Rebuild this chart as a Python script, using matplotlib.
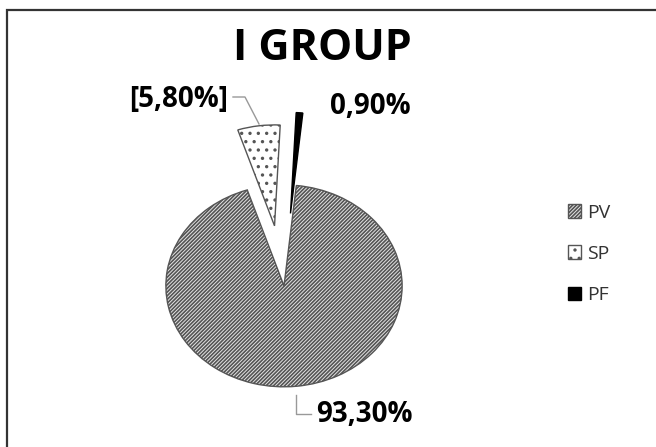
import matplotlib.pyplot as plt
from matplotlib.patches import Rectangle

plt.rcParams['font.family'] = ['Open Sans', 'DejaVu Sans']
plt.rcParams['hatch.linewidth'] = 1.2

# data
labels = ['PV', 'SP', 'PF']
values = [93.3, 5.8, 0.9]
explode = [0.0, 0.6, 0.72]
title = 'I GROUP'


def fmt(v):
    return f'{v:.2f}%'.replace('.', ',')


fig = plt.figure(figsize=(6.56, 4.47), dpi=100)

# outer frame of the chart area
fig.patches.append(Rectangle((7 / 656, -0.05), 1.1, 1 - 10 / 447 + 0.05,
                             transform=fig.transFigure, fill=False,
                             edgecolor='#333333', linewidth=1.6))

# pie axes: radius 1 -> ~118 px wide, ~101 px tall
ax = fig.add_axes([95 / 656, 40 / 447, 378 / 656, 323 / 447])
wedges, _ = ax.pie(values, explode=explode, startangle=84, counterclock=False,
                   radius=1.0, wedgeprops=dict(linewidth=1.0))
ax.set_aspect('auto')
ax.set_xlim(-1.6, 1.6)
ax.set_ylim(-1.2, 2.0)
ax.axis('off')

wedges[0].set_facecolor('#e6e6e6')
wedges[0].set_edgecolor('#555555')
wedges[0].set_hatch('/' * 9)
wedges[1].set_facecolor('white')
wedges[1].set_edgecolor('#555555')
wedges[1].set_hatch('..')
wedges[2].set_facecolor('black')
wedges[2].set_edgecolor('black')

# data labels
fig.text(228 / 656, 1 - 100 / 447, f'[{fmt(values[1])}]', ha='right', va='center',
         fontsize=20, fontweight='bold')
fig.add_artist(plt.Line2D([233 / 656, 245 / 656, 259 / 656],
                          [1 - 97 / 447, 1 - 97 / 447, 1 - 124 / 447],
                          color='#999999', linewidth=1.0))
fig.text(330 / 656, 1 - 107 / 447, fmt(values[2]), ha='left', va='center',
         fontsize=20, fontweight='bold')
fig.text(316 / 656, 1 - 415 / 447, fmt(values[0]), ha='left', va='center',
         fontsize=20, fontweight='bold')
fig.add_artist(plt.Line2D([296 / 656, 296 / 656, 311 / 656],
                          [1 - 395 / 447, 1 - 414 / 447, 1 - 414 / 447],
                          color='#999999', linewidth=1.0))

fig.text(322 / 656, 1 - 48 / 447, title, ha='center', va='center',
         fontsize=31, fontweight='bold')

leg = fig.legend(wedges, labels, loc='center left',
                 bbox_to_anchor=(550 / 656, 1 - 254 / 447),
                 frameon=False, fontsize=14, handlelength=0.7, handleheight=0.7,
                 handletextpad=0.3, labelspacing=1.2)
for t in leg.get_texts():
    t.set_color('#333333')

fig.savefig('out.png', dpi=100)
